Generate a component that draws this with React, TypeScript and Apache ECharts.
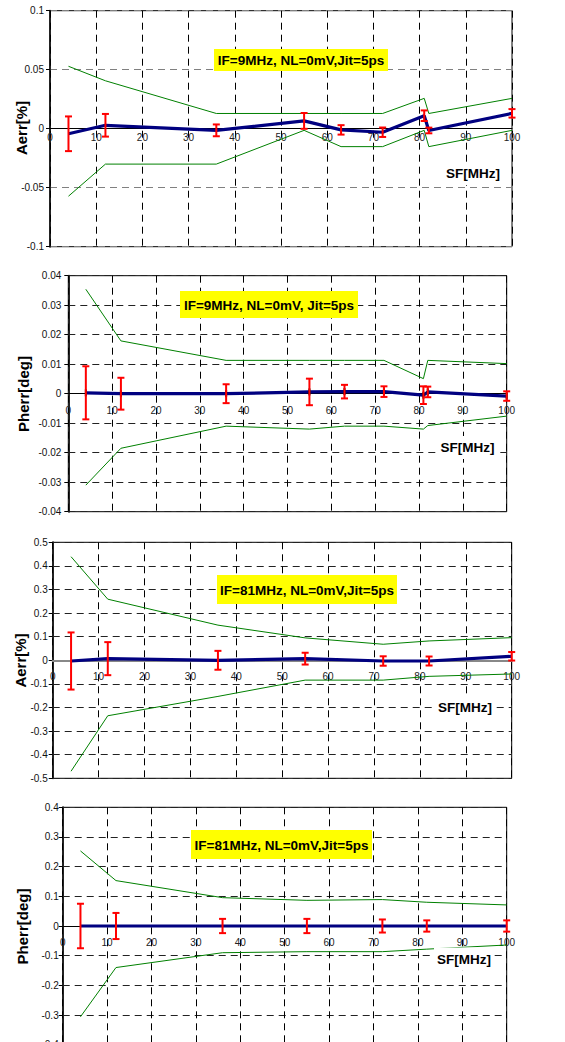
import React, { useEffect, useRef } from "react";
import * as echarts from "echarts";

// ---- Data ----
const sfA = [4, 12, 36, 55, 63, 72, 81, 82, 100];
const sfB = [4, 12, 36, 55, 72, 82, 100];

// Panel 1: IF=9MHz Aerr[%]
const p1Mean = [-0.0043, 0.0029, -0.0014, 0.0066, -0.001, -0.003, 0.011, -0.0015, 0.013];
const p1Err = [0.0147, 0.0096, 0.005, 0.0067, 0.004, 0.004, 0.0045, 0.0024, 0.0036];
const p1Upper = [0.0529, 0.0406, 0.0129, 0.0129, 0.0129, 0.0129, 0.0257, 0.0129, 0.0257];
const p1Lower = [-0.0572, -0.03, -0.03, -0.0014, -0.0152, -0.0152, -0.0014, -0.0152, -0.0014];

// Panel 2: IF=9MHz Pherr[deg]
const p2Mean = [0.0003, 0, 0, 0.0006, 0.0007, 0.0007, -0.0005, 0.0006, -0.0008];
const p2Err = [0.009, 0.0054, 0.0032, 0.0045, 0.0023, 0.0018, 0.003, 0.0018, 0.0016];
const p2Upper = [0.0354, 0.0179, 0.0113, 0.0113, 0.0113, 0.0113, 0.0051, 0.0113, 0.0102];
const p2Lower = [-0.031, -0.0185, -0.011, -0.012, -0.011, -0.011, -0.012, -0.0108, -0.0076];

// Panel 3: IF=81MHz Aerr[%]
const p3Mean = [-0.003, 0.007, 0, 0.007, -0.003, -0.003, 0.017];
const p3Err = [0.121, 0.07, 0.04, 0.025, 0.02, 0.019, 0.018];
const p3Upper = [0.439, 0.259, 0.149, 0.095, 0.068, 0.082, 0.096];
const p3Lower = [-0.47, -0.235, -0.153, -0.084, -0.084, -0.068, -0.058];

// Panel 4: IF=81MHz Pherr[deg]
const p4Mean = [0, 0, 0, 0, 0, 0, 0];
const p4Err = [0.075, 0.044, 0.024, 0.024, 0.022, 0.019, 0.019];
const p4Upper = [0.253, 0.153, 0.0955, 0.0865, 0.089, 0.08, 0.071];
const p4Lower = [-0.306, -0.14, -0.09, -0.0865, -0.0865, -0.078, -0.064];

const yTicks = [
  { min: -0.1, max: 0.1, interval: 0.05 },
  { min: -0.04, max: 0.04, interval: 0.01 },
  { min: -0.5, max: 0.5, interval: 0.1 },
  { min: -0.4, max: 0.4, interval: 0.1 },
];
const annotations = [
  "IF=9MHz, NL=0mV,Jit=5ps",
  "IF=9MHz, NL=0mV, Jit=5ps",
  "IF=81MHz, NL=0mV,Jit=5ps",
  "IF=81MHz, NL=0mV,Jit=5ps",
];
const yTitles = ["Aerr[%]", "Pherr[deg]", "Aerr[%]", "Pherr[deg]"];
const xTitle = "SF[MHz]";

const FONT = '"Liberation Sans", Arial, Helvetica, sans-serif';

const panels = [
  { x: sfA, mean: p1Mean, err: p1Err, up: p1Upper, lo: p1Lower },
  { x: sfA, mean: p2Mean, err: p2Err, up: p2Upper, lo: p2Lower },
  { x: sfB, mean: p3Mean, err: p3Err, up: p3Upper, lo: p3Lower },
  { x: sfB, mean: p4Mean, err: p4Err, up: p4Upper, lo: p4Lower },
];

// layout (pixels)
const grids = [
  { left: 50, width: 462, top: 10.7, height: 236 },
  { left: 68.3, width: 438.4, top: 275.7, height: 236 },
  { left: 52.7, width: 459, top: 542.3, height: 236 },
  { left: 62.7, width: 444, top: 807.3, height: 237.4 },
];
const boxes = [
  { x: 214, y: 49, w: 174, h: 22 },
  { x: 180, y: 291, w: 178, h: 27 },
  { x: 217, y: 575, w: 180, h: 29 },
  { x: 191, y: 830, w: 181, h: 29 },
];
const sfPos = [
  [473, 173.5],
  [467.5, 447.5],
  [465, 707],
  [464, 959],
];
const yTitlePos = [
  [21, 128],
  [23.5, 394],
  [20.5, 660.5],
  [22.5, 926.5],
];
const xAxisLine = [
  { color: "#000", width: 1 },
  { color: "#000", width: 1 },
  { color: "#888", width: 2 },
  { color: "#000", width: 1 },
];
const hGridColor = ["#808080", "#222", "#222", "#222"];
const xLabelMargin = [4, 12, 11, 11];
const yLabelMargin = [6, 7, 5, 4];

function zip(xs: number[], ys: number[]) {
  return xs.map((x, i) => [x, ys[i]]);
}

export default function App() {
  const ref = useRef<HTMLDivElement>(null);
  useEffect(() => {
    if (!ref.current) return;
    const chart = echarts.init(ref.current, null, { renderer: "svg" });

    const grid: any[] = [];
    const xAxis: any[] = [];
    const yAxis: any[] = [];
    const series: any[] = [];
    const graphic: any[] = [];

    panels.forEach((p, i) => {
      const g = grids[i];
      const yr = yTicks[i];
      grid.push({
        left: g.left,
        top: g.top,
        width: g.width,
        height: g.height,
        outerBoundsMode: "none",
        containLabel: false,
        show: true,
        borderColor: "#000",
        borderWidth: 1,
        backgroundColor: "transparent",
      });
      xAxis.push({
        type: "value",
        gridIndex: i,
        min: 0,
        max: 100,
        interval: 10,
        position: "bottom",
        z: 1,
        offset: -(g.height * (0 - yr.min)) / (yr.max - yr.min),
        axisLine: { onZero: false, lineStyle: xAxisLine[i] },
        axisTick: { show: false },
        axisLabel: {
          fontSize: 10,
          fontFamily: FONT,
          color: "#222",
          margin: xLabelMargin[i],
        },
        splitLine: {
          show: true,
          lineStyle: { color: "#000", type: [7, 5], width: 1 },
        },
      });
      yAxis.push({
        type: "value",
        gridIndex: i,
        min: yr.min,
        max: yr.max,
        interval: yr.interval,
        z: 0,
        axisLine: { show: true, onZero: false, lineStyle: { color: "#222", width: 2 } },
        axisTick: { show: true, length: 4, lineStyle: { color: "#000", width: 1 } },
        axisLabel: {
          fontSize: 10,
          fontFamily: FONT,
          color: "#111",
          margin: yLabelMargin[i],
        },
        splitLine: {
          show: true,
          lineStyle: { color: hGridColor[i], type: [7, 5], width: 1.2 },
        },
      });

      series.push({
        type: "line",
        xAxisIndex: i,
        yAxisIndex: i,
        data: zip(p.x, p.up),
        symbol: "none",
        lineStyle: { color: "#008000", width: 1 },
        z: 2,
      });
      series.push({
        type: "line",
        xAxisIndex: i,
        yAxisIndex: i,
        data: zip(p.x, p.lo),
        symbol: "none",
        lineStyle: { color: "#008000", width: 1 },
        z: 2,
      });
      series.push({
        type: "line",
        xAxisIndex: i,
        yAxisIndex: i,
        data: zip(p.x, p.mean),
        symbol: i === 1 ? "rect" : "none",
        symbolSize: [2, 7],
        itemStyle: { color: "#000" },
        lineStyle: { color: "#000080", width: i === 3 ? 2.8 : 3.2 },
        z: 3,
      });
      series.push({
        type: "custom",
        xAxisIndex: i,
        yAxisIndex: i,
        clip: false,
        z: 4,
        data: p.x.map((x, k) => [x, p.mean[k] - p.err[k], p.mean[k] + p.err[k]]),
        encode: { x: 0, y: [1, 2] },
        renderItem: (_params: any, api: any) => {
          const x = api.value(0);
          const a = api.coord([x, api.value(1)]);
          const b = api.coord([x, api.value(2)]);
          const hw = 3.5;
          const st = { stroke: "#ff0000", lineWidth: 2 };
          return {
            type: "group",
            children: [
              { type: "line", shape: { x1: a[0], y1: a[1], x2: b[0], y2: b[1] }, style: st },
              { type: "line", shape: { x1: a[0] - hw, y1: a[1], x2: a[0] + hw, y2: a[1] }, style: st },
              { type: "line", shape: { x1: b[0] - hw, y1: b[1], x2: b[0] + hw, y2: b[1] }, style: st },
            ],
          };
        },
      });

      const bx = boxes[i];
      graphic.push({
        type: "rect",
        z: 50,
        shape: { x: bx.x, y: bx.y, width: bx.w, height: bx.h },
        style: { fill: "#ffff00" },
      });
      graphic.push({
        type: "text",
        z: 51,
        x: bx.x + bx.w / 2,
        y: bx.y + bx.h / 2 + 0.5,
        style: {
          text: annotations[i],
          font: `bold 13.5px ${FONT}`,
          fill: "#000",
          align: "center",
          verticalAlign: "middle",
        },
      });
      graphic.push({
        type: "text",
        z: 51,
        x: sfPos[i][0],
        y: sfPos[i][1],
        style: {
          text: xTitle,
          font: `bold 13.5px ${FONT}`,
          fill: "#000",
          align: "center",
          verticalAlign: "middle",
          backgroundColor: "#fff",
          padding: [6, 3, 3, 3],
        },
      });
      graphic.push({
        type: "text",
        z: 51,
        x: yTitlePos[i][0],
        y: yTitlePos[i][1],
        rotation: Math.PI / 2,
        style: {
          text: yTitles[i],
          font: `bold 15px ${FONT}`,
          fill: "#000",
          align: "center",
          verticalAlign: "middle",
        },
      });
    });

    chart.setOption({
      animation: false,
      backgroundColor: "#fff",
      grid,
      xAxis,
      yAxis,
      series,
      graphic,
    });
    return () => chart.dispose();
  }, []);

  return (
    <div
      ref={ref}
      style={{ position: "fixed", left: 0, top: 0, width: 565, height: 1042 }}
    />
  );
}
